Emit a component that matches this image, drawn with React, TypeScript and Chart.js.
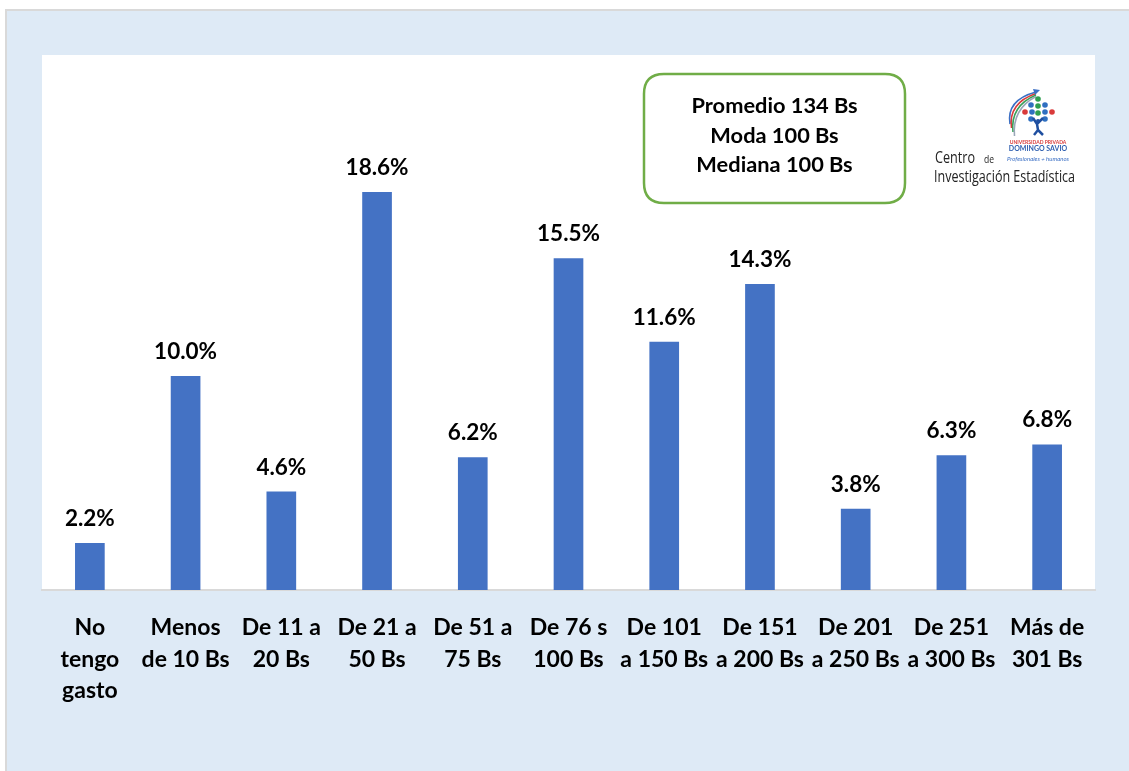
import React, { useEffect, useRef } from "react";
import { Chart, registerables } from "chart.js";

Chart.register(...registerables);

const categories: string[][] = [
  ["No", "tengo", "gasto"],
  ["Menos", "de 10 Bs"],
  ["De 11 a", "20 Bs"],
  ["De 21 a", "50 Bs"],
  ["De 51 a", "75 Bs"],
  ["De 76 s", "100 Bs"],
  ["De 101", "a 150 Bs"],
  ["De 151", "a 200 Bs"],
  ["De 201", "a 250 Bs"],
  ["De 251", "a 300 Bs"],
  ["Más de", "301 Bs"],
];

const values: number[] = [2.2, 10.0, 4.6, 18.6, 6.2, 15.5, 11.6, 14.3, 3.8, 6.3, 6.8];

const statsLines: string[] = ["Promedio 134 Bs", "Moda 100 Bs", "Mediana 100 Bs"];

const logoLines: string[] = ["Centro", "de", "Investigación Estadística"];

const FONT = "Lato, 'Noto Sans', sans-serif";

const decorPlugin = {
  id: "decor",
  beforeDraw(chart: any) {
    const { ctx, width, height, chartArea } = chart;
    ctx.save();
    ctx.fillStyle = "#ffffff";
    ctx.fillRect(0, 0, width, height);
    ctx.fillStyle = "#d9d9d9";
    ctx.fillRect(5, 9, width - 5, height - 9);
    ctx.fillStyle = "#deeaf6";
    ctx.fillRect(7, 11, width - 7, height - 11);
    ctx.fillStyle = "#ffffff";
    ctx.fillRect(chartArea.left, chartArea.top, chartArea.right - chartArea.left, chartArea.bottom - chartArea.top);
    ctx.restore();
  },
  afterDatasetsDraw(chart: any) {
    const { ctx } = chart;
    ctx.save();
    // data labels
    const meta = chart.getDatasetMeta(0);
    ctx.fillStyle = "#000000";
    ctx.font = `bold 22.5px ${FONT}`;
    ctx.textAlign = "center";
    ctx.textBaseline = "alphabetic";
    meta.data.forEach((bar: any, i: number) => {
      ctx.fillText(values[i].toFixed(1) + "%", bar.x, bar.y - 17);
    });

    // stats box
    const bx = 644, by = 74, bw = 261, bh = 129, r = 20;
    ctx.beginPath();
    ctx.moveTo(bx + r, by);
    ctx.lineTo(bx + bw - r, by);
    ctx.quadraticCurveTo(bx + bw, by, bx + bw, by + r);
    ctx.lineTo(bx + bw, by + bh - r);
    ctx.quadraticCurveTo(bx + bw, by + bh, bx + bw - r, by + bh);
    ctx.lineTo(bx + r, by + bh);
    ctx.quadraticCurveTo(bx, by + bh, bx, by + bh - r);
    ctx.lineTo(bx, by + r);
    ctx.quadraticCurveTo(bx, by, bx + r, by);
    ctx.closePath();
    ctx.fillStyle = "#ffffff";
    ctx.fill();
    ctx.strokeStyle = "#70ad47";
    ctx.lineWidth = 2.5;
    ctx.stroke();
    ctx.fillStyle = "#000000";
    ctx.font = `bold 21.8px ${FONT}`;
    ctx.textBaseline = "middle";
    statsLines.forEach((t, i) => {
      ctx.fillText(t, bx + bw / 2, 106 + i * 29.5);
    });

    // logo
    const swoosh = ["#3b6fc4", "#d93a3a", "#3aa05a", "#9aa7b8"];
    swoosh.forEach((c, i) => {
      ctx.beginPath();
      ctx.moveTo(1010 + i * 1.5, 124 + i * 4);
      ctx.quadraticCurveTo(1006 + i * 2, 100 + i * 3, 1036, 92 + i * 1.5);
      ctx.strokeStyle = c;
      ctx.lineWidth = 1.6;
      ctx.stroke();
    });
    ctx.beginPath();
    ctx.moveTo(1040, 90);
    ctx.lineTo(1033, 89);
    ctx.lineTo(1035, 95);
    ctx.closePath();
    ctx.fillStyle = "#3b6fc4";
    ctx.fill();
    const dots: [number, number, string][] = [
      [1038, 99, "#2e9e4f"],
      [1031, 105, "#2f6fc0"], [1038, 106, "#2e9e4f"], [1045, 105, "#2f6fc0"],
      [1025, 112, "#d93a3a"], [1032, 112, "#2f6fc0"], [1038, 113, "#2e9e4f"], [1045, 112, "#2f6fc0"], [1052, 112, "#d93a3a"],
      [1031, 119, "#2f6fc0"], [1045, 119, "#2f6fc0"],
    ];
    dots.forEach(([x, y, c]) => {
      ctx.beginPath();
      ctx.arc(x, y, 2.8, 0, Math.PI * 2);
      ctx.fillStyle = c;
      ctx.fill();
    });
    // figure
    ctx.strokeStyle = "#1f4fa0";
    ctx.lineWidth = 2.5;
    ctx.beginPath();
    ctx.moveTo(1033, 118);
    ctx.lineTo(1037, 124);
    ctx.lineTo(1043, 118);
    ctx.moveTo(1037, 124);
    ctx.lineTo(1038, 130);
    ctx.lineTo(1034, 135);
    ctx.moveTo(1038, 130);
    ctx.lineTo(1043, 135);
    ctx.stroke();
    ctx.beginPath();
    ctx.arc(1038, 121, 2, 0, Math.PI * 2);
    ctx.fillStyle = "#1f4fa0";
    ctx.fill();
    ctx.textAlign = "center";
    ctx.textBaseline = "middle";
    ctx.font = `bold 5px ${FONT}`;
    ctx.fillStyle = "#d93a3a";
    ctx.fillText("UNIVERSIDAD PRIVADA", 1038, 142);
    ctx.font = `bold 7px ${FONT}`;
    ctx.fillStyle = "#2f5fb0";
    ctx.fillText("DOMINGO SAVIO", 1038, 149);
    ctx.font = `italic 6px ${FONT}`;
    ctx.fillStyle = "#3b6fc4";
    ctx.fillText("Profesionales + humanos", 1038, 159);

    ctx.fillStyle = "#222222";
    ctx.textAlign = "left";
    ctx.textBaseline = "alphabetic";
    ctx.font = `16px 'Open Sans', sans-serif`;
    ctx.fillText(logoLines[0], 935, 163, 40);
    ctx.font = `10px 'Open Sans', sans-serif`;
    ctx.fillText(logoLines[1], 984, 163, 10);
    ctx.font = `16px 'Open Sans', sans-serif`;
    ctx.fillText(logoLines[2], 934, 182, 141);
    ctx.restore();
  },
};

export default function App() {
  const ref = useRef<HTMLCanvasElement>(null);
  useEffect(() => {
    document.body.style.margin = "0";
    if (!ref.current) return;
    const chart = new Chart(ref.current, {
      type: "bar",
      data: {
        labels: categories,
        datasets: [
          {
            data: values,
            backgroundColor: "#4472c4",
            categoryPercentage: 1,
            barPercentage: 0.31,
          },
        ],
      },
      options: {
        animation: false,
        responsive: false,
        maintainAspectRatio: false,
        layout: { padding: { left: 42, right: 34, top: 55, bottom: 0 } },
        plugins: { legend: { display: false }, tooltip: { enabled: false } },
        scales: {
          x: {
            grid: { display: false },
            border: { display: true, color: "#d9d9d9", width: 2 },
            ticks: {
              color: "#000000",
              font: { family: FONT, size: 23, weight: "bold", lineHeight: 1.37 },
              maxRotation: 0,
              minRotation: 0,
              autoSkip: false,
              padding: 14,
            },
            afterFit(scale: any) {
              scale.height = 181;
            },
          },
          y: { display: false, min: 0, max: 25 },
        },
      },
      plugins: [decorPlugin],
    });
    return () => chart.destroy();
  }, []);
  return (
    <div style={{ width: 1129, height: 771 }}>
      <canvas ref={ref} width={1129} height={771} style={{ display: "block" }} />
    </div>
  );
}
